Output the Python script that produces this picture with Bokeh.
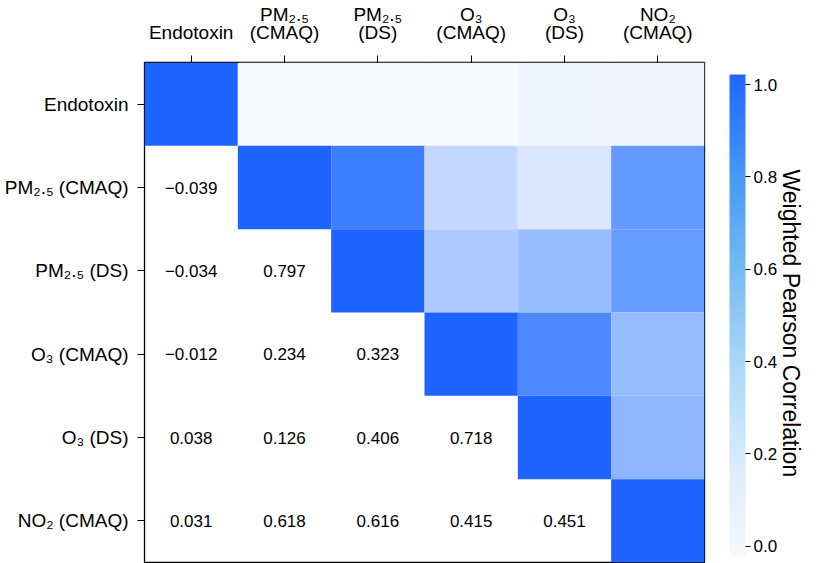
from bokeh.plotting import figure
from bokeh.models import (ColumnDataSource, LinearColorMapper, ColorBar, FixedTicker,
                          PrintfTickFormatter, Title, CategoricalAxis, FactorRange)
from bokeh.embed import file_html
from bokeh.resources import INLINE
from bokeh.core.properties import value

# ---------------- data ----------------
variables = ["Endotoxin", "PM₂.₅ (CMAQ)", "PM₂.₅ (DS)", "O₃ (CMAQ)", "O₃ (DS)", "NO₂ (CMAQ)"]
top_line1 = ["", "PM₂.₅", "PM₂.₅", "O₃", "O₃", "NO₂"]
top_line2 = ["Endotoxin", "(CMAQ)", "(DS)", "(CMAQ)", "(DS)", "(CMAQ)"]

# lower-triangle weighted Pearson correlations, one list per row
corr_endotoxin = []
corr_pm25_cmaq = [-0.039]
corr_pm25_ds = [-0.034, 0.797]
corr_o3_cmaq = [-0.012, 0.234, 0.323]
corr_o3_ds = [0.038, 0.126, 0.406, 0.718]
corr_no2_cmaq = [0.031, 0.618, 0.616, 0.415, 0.451]
rows = [corr_endotoxin, corr_pm25_cmaq, corr_pm25_ds, corr_o3_cmaq, corr_o3_ds, corr_no2_cmaq]

cbar_ticks = [0.0, 0.2, 0.4, 0.6, 0.8, 1.0]
cbar_title = "Weighted Pearson Correlation"

FONT = "Liberation Sans"
ZW = "\u200b"


def unique_factors(labels):
    """make repeated tick labels unique with zero-width spaces"""
    seen, out = {}, []
    for lab in labels:
        k = seen.get(lab, 0)
        out.append(lab + ZW * k if lab else ZW * 9)
        seen[lab] = k + 1
    return out


def make_palette(stops, n=256):
    out = []
    for k in range(n):
        t = k / (n - 1)
        for (t0, c0), (t1, c1) in zip(stops[:-1], stops[1:]):
            if t0 <= t <= t1:
                f = (t - t0) / (t1 - t0) if t1 > t0 else 0
                c = [round(a + (b - a) * f) for a, b in zip(c0, c1)]
                out.append("#%02x%02x%02x" % tuple(c))
                break
    return out


cell_palette = make_palette([(0.0, (248, 249, 255)), (0.25, (192, 212, 255)),
                             (0.5, (130, 174, 255)), (0.75, (68, 132, 255)),
                             (1.0, (30, 100, 255))])
bar_palette = make_palette([(0.0, (246, 247, 255)), (0.2, (215, 235, 252)),
                            (0.4, (170, 215, 248)), (0.6, (115, 186, 242)),
                            (0.8, (70, 150, 245)), (1.0, (30, 104, 255))])

xf2 = unique_factors(top_line2)
xf1 = unique_factors(top_line1)

n = len(variables)
full = [[1.0 if i == j else None for j in range(n)] for i in range(n)]
for i, r in enumerate(rows):
    for j, v in enumerate(r):
        full[i][j] = v
        full[j][i] = v

cx, cy, cv = [], [], []
tx, ty, tt = [], [], []
for i in range(n):
    for j in range(n):
        if j >= i:
            cx.append(xf2[j]); cy.append(variables[i]); cv.append(full[i][j])
        else:
            tx.append(xf2[j]); ty.append(variables[i])
            tt.append(f"{full[i][j]:.3f}".replace("-", "−"))

cells = ColumnDataSource(dict(x=cx, y=cy, v=cv))
texts = ColumnDataSource(dict(x=tx, y=ty, t=tt))

cell_mapper = LinearColorMapper(palette=cell_palette, low=0.0, high=1.0)
bar_mapper = LinearColorMapper(palette=bar_palette, low=-0.02, high=1.022)

p = figure(x_range=FactorRange(factors=xf2), y_range=list(reversed(variables)),
           frame_width=560, frame_height=500,
           x_axis_location="above", output_backend="svg", toolbar_location=None,
           min_border_left=144, min_border_top=61, min_border_bottom=2, min_border_right=116)
p.extra_x_ranges = {"line1": FactorRange(factors=xf1)}

p.rect(x="x", y="y", width=1, height=1, source=cells,
       fill_color={"field": "v", "transform": cell_mapper}, line_color=None)
p.text(x="x", y="y", text="t", source=texts, text_align="center", text_baseline="middle",
       text_font=value(FONT), text_font_size="17px", text_color="black")

p.xgrid.visible = False
p.ygrid.visible = False
p.outline_line_color = "black"
p.outline_line_width = 1.3
p.outline_line_alpha = 1.0
p.x_range.range_padding = 0
p.y_range.range_padding = 0

for ax in (p.xaxis[0], p.yaxis[0]):
    ax.axis_line_color = None
    ax.major_tick_in = 0
    ax.major_tick_out = 7
    ax.major_tick_line_color = "black"
    ax.major_label_text_font = FONT
    ax.major_label_text_font_size = "19px"
    ax.major_label_text_color = "black"

p.xaxis.major_label_standoff = 13
p.yaxis.major_label_standoff = 9

ax2 = CategoricalAxis(x_range_name="line1", axis_line_color=None,
                      major_tick_in=0, major_tick_out=0, major_tick_line_color=None,
                      major_label_standoff=-6,
                      major_label_text_font=FONT, major_label_text_font_size="19px",
                      major_label_text_color="black")
p.add_layout(ax2, "above")

cb = ColorBar(color_mapper=bar_mapper, ticker=FixedTicker(ticks=cbar_ticks),
              formatter=PrintfTickFormatter(format="%.1f"),
              width=16, height=481, padding=0, margin=0,
              location=(25, 7),
              bar_line_color=None, border_line_color=None, background_fill_color=None,
              major_tick_in=0, major_tick_out=5, major_tick_line_color="black",
              label_standoff=3,
              major_label_text_font=FONT, major_label_text_font_size="17px",
              major_label_text_color="black")
p.add_layout(cb, "right")

t = Title(text=cbar_title, align="left", text_font=FONT, text_font_size="23px",
          text_font_style="normal", text_color="black", standoff=-6, offset=107)
p.add_layout(t, "right")

open("out.html", "w").write(file_html(p, INLINE))
